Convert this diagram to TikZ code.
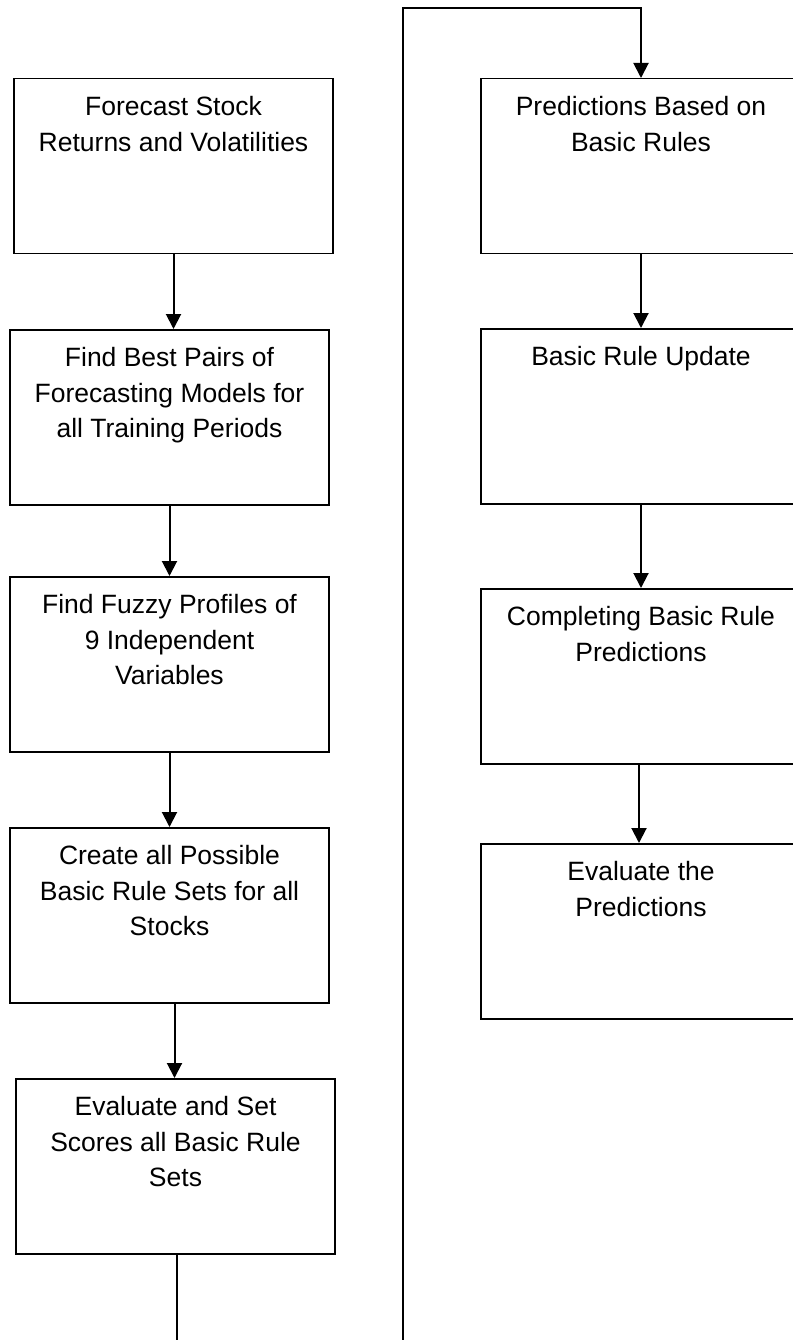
\documentclass[tikz,border=0pt]{standalone}
\usepackage{fontspec}
\setmainfont{Liberation Sans}
\usetikzlibrary{arrows.meta, positioning}
\tikzset{
  every picture/.style={line width=1.5pt},
  box/.style={draw, anchor=north, inner sep=0pt, minimum width=#1, minimum height=175pt},
  box/.default=319pt,
  arrow/.style={-{Triangle[length=15pt, width=15pt]}, line width=2pt},
  wire/.style={line width=2pt},
  caption/.style={align=center, inner sep=0pt, font=\fontsize{26.5}{35.5}\selectfont},
}

\begin{document}
\begin{tikzpicture}[x=1pt, y=-1pt]
  \useasboundingbox (0,0) rectangle (792,1340);

  % left column
  \node[box] (fc) at (173.5,78) {};
  \node[caption, below=18pt of fc.north] (fct) {Forecast Stock\\ Returns and Volatilities};

  \node[box] (bp) at (169.5,329) {};
  \node[caption, below=18pt of bp.north] (bpt) {Find Best Pairs of\\ Forecasting Models for\\ all Training Periods};

  \node[box] (fz) at (169.5,576) {};
  \node[caption, below=18pt of fz.north] (fzt) {Find Fuzzy Profiles of\\ 9 Independent\\ Variables};

  \node[box] (rs) at (169.5,827) {};
  \node[caption, below=18pt of rs.north] (rst) {Create all Possible\\ Basic Rule Sets for all\\ Stocks};

  \node[box] (ev) at (175.5,1078) {};
  \node[caption, below=18pt of ev.north] (evt) {Evaluate and Set\\ Scores all Basic Rule\\ Sets};

  % right column
  \node[box=320pt] (pr) at (641,78) {};
  \node[caption, below=18pt of pr.north] (prt) {Predictions Based on\\ Basic Rules};

  \node[box=320pt] (up) at (641,328) {};
  \node[caption, below=18pt of up.north] (upt) {Basic Rule Update};

  \node[box=320pt] (cp) at (641,588) {};
  \node[caption, below=18pt of cp.north] (cpt) {Completing Basic Rule\\ Predictions};

  \node[box=320pt] (ep) at (641,843) {};
  \node[caption, below=18pt of ep.north] (ept) {Evaluate the\\ Predictions};

  \draw[arrow] (fc.south) -- (fc.south |- bp.north);
  \draw[arrow] (bp.south) -- (bp.south |- fz.north);
  \draw[arrow] (fz.south) -- (fz.south |- rs.north);
  \draw[arrow] ([xshift=5pt]rs.south) -- ([xshift=5pt]rs.south |- ev.north);

  % link from the bottom of the left column to the top of the right one
  \coordinate (d1) at (177,1340);
  \coordinate (d2) at (403,1340);
  \coordinate (tp) at (403,8);
  \draw[wire] (d1 |- ev.south) -- (d1);
  \draw[arrow] (d2) -- (tp) -| (pr.north);

  \draw[arrow] (pr.south) -- (up.north);
  \draw[arrow] (up.south) -- (cp.north);
  \draw[arrow] ([xshift=-2pt]cp.south) -- ([xshift=-2pt]ep.north);
\end{tikzpicture}
\end{document}
